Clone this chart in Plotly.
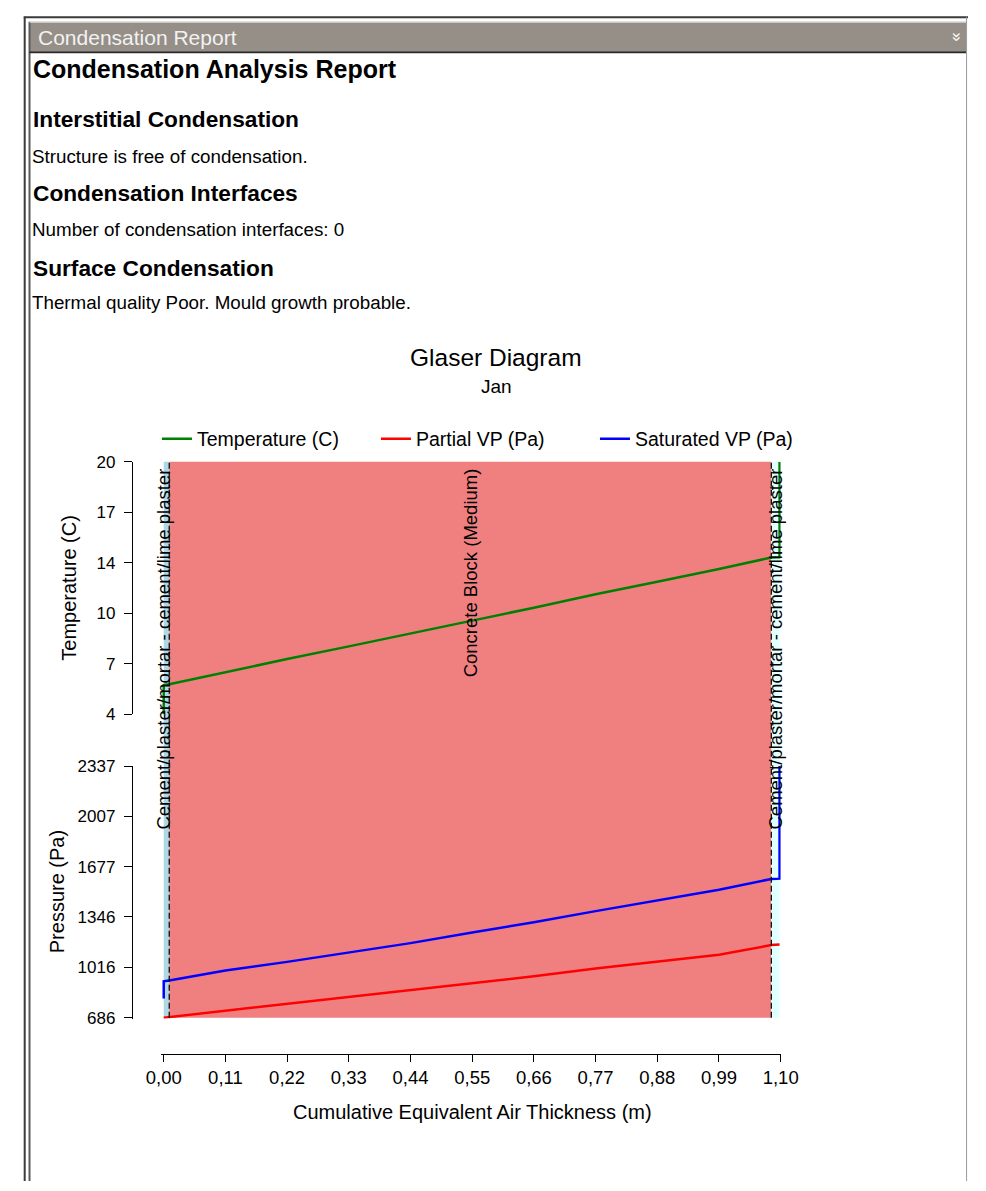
import plotly.graph_objects as go

W, H = 986, 1191

# ---------------- data ----------------
x_temp = [0.0, 0.0, 0.0098, 0.11, 0.22, 0.33, 0.44, 0.55, 0.66, 0.77, 0.88, 0.99, 1.0833, 1.098, 1.098]
temp = [4.0, 5.85, 5.9, 6.68, 7.5, 8.3, 9.1, 9.93, 10.75, 11.6, 12.4, 13.2, 13.93, 13.95, 20.0]

x_psat = [0.0, 0.0, 0.0098, 0.11, 0.22, 0.33, 0.44, 0.55, 0.66, 0.77, 0.88, 0.99, 1.0833, 1.098, 1.098]
psat = [812, 924, 930, 995, 1052, 1112, 1175, 1245, 1312, 1385, 1455, 1525, 1596, 1598, 2337]

x_pvap = [0.0, 0.0098, 0.11, 0.22, 0.33, 0.44, 0.55, 0.66, 0.77, 0.88, 0.99, 1.0833, 1.098]
pvap = [686, 690, 731, 776, 822, 866, 912, 957, 1009, 1054, 1099, 1162, 1166]

layer_names = ["Cement/plaster/mortar - cement/lime plaster",
               "Concrete Block (Medium)",
               "Cement/plaster/mortar - cement/lime plaster"]
layer_bounds = [0.0, 0.0098, 1.0833, 1.098]
layer_colors = ["#ADD8E6", "#F08080", "#E0FFFF"]

x_ticks = [0.0, 0.11, 0.22, 0.33, 0.44, 0.55, 0.66, 0.77, 0.88, 0.99, 1.10]
x_tick_labels = ["0,00", "0,11", "0,22", "0,33", "0,44", "0,55", "0,66", "0,77", "0,88", "0,99", "1,10"]
temp_ticks = [4.0, 7.2, 10.4, 13.6, 16.8, 20.0]
temp_tick_labels = ["4", "7", "10", "14", "17", "20"]
p_ticks = [686.0, 1016.2, 1346.4, 1676.6, 2006.8, 2337.0]
p_tick_labels = ["686", "1016", "1346", "1677", "2007", "2337"]

report_lines = [
    ("Condensation Analysis Report", 25, True, 61),
    ("Interstitial Condensation", 22.7, True, 112),
    ("Structure is free of condensation.", 18.8, False, 150),
    ("Condensation Interfaces", 22.7, True, 187),
    ("Number of condensation interfaces: 0", 18.8, False, 224),
    ("Surface Condensation", 22.7, True, 263),
    ("Thermal quality Poor. Mould growth probable.", 18.8, False, 298),
]

FONT = "Liberation Sans, Arial, sans-serif"


def X(px):
    return px / W


def Y(py):
    return 1 - py / H


fig = go.Figure()

fig.add_trace(go.Scatter(x=x_temp, y=temp, mode="lines", name="Temperature (C)",
                         line=dict(color="#008000", width=2.5), xaxis="x", yaxis="y"))
fig.add_trace(go.Scatter(x=x_pvap, y=pvap, mode="lines", name="Partial VP (Pa)",
                         line=dict(color="#FF0000", width=2.5), xaxis="x", yaxis="y2"))
fig.add_trace(go.Scatter(x=x_psat, y=psat, mode="lines", name="Saturated VP (Pa)",
                         line=dict(color="#0000FF", width=2.5), xaxis="x", yaxis="y2"))

shapes = []
annotations = []

# ---- frame ----
shapes += [
    dict(type="rect", xref="paper", yref="paper", x0=X(14), x1=X(984), y0=Y(43), y1=Y(13),
         fillcolor="#958F88", line=dict(width=0), layer="below"),
    dict(type="line", xref="paper", yref="paper", x0=X(9), x1=X(9), y0=Y(8), y1=0,
         line=dict(color="#3a3a3a", width=2)),
    dict(type="line", xref="paper", yref="paper", x0=X(8), x1=X(986), y0=Y(8.5), y1=Y(8.5),
         line=dict(color="#3a3a3a", width=2)),
    dict(type="line", xref="paper", yref="paper", x0=X(14), x1=X(14), y0=Y(13), y1=0,
         line=dict(color="#5a5a5a", width=2)),
    dict(type="line", xref="paper", yref="paper", x0=X(14), x1=X(984), y0=Y(13.5), y1=Y(13.5),
         line=dict(color="#d8d8d8", width=1)),
    dict(type="line", xref="paper", yref="paper", x0=X(14), x1=X(984), y0=Y(44), y1=Y(44),
         line=dict(color="#2a2a2a", width=2)),
    dict(type="line", xref="paper", yref="paper", x0=X(984.5), x1=X(984.5), y0=Y(8), y1=0,
         line=dict(color="#9a9a9a", width=1)),
]
annotations.append(dict(text="Condensation Report", xref="paper", yref="paper", x=X(21), y=Y(29),
                        xanchor="left", yanchor="middle", showarrow=False,
                        font=dict(family=FONT, size=21, color="#f2f2f2")))
annotations.append(dict(text="»", xref="paper", yref="paper", x=X(975), y=Y(28),
                        xanchor="center", yanchor="middle", showarrow=False, textangle=90,
                        font=dict(family=FONT, size=17, color="#ffffff")))

for txt, size, bold, yc in report_lines:
    annotations.append(dict(text=f"<b>{txt}</b>" if bold else txt, xref="paper", yref="paper",
                            x=X(16 if bold else 14), y=Y(yc), xanchor="left", yanchor="middle",
                            showarrow=False, font=dict(family=FONT, size=size, color="#000000")))

# ---- chart titles ----
annotations.append(dict(text="Glaser Diagram", xref="paper", yref="paper", x=X(497.5), y=Y(354),
                        xanchor="center", yanchor="middle", showarrow=False,
                        font=dict(family=FONT, size=24.5, color="#000000")))
annotations.append(dict(text="Jan", xref="paper", yref="paper", x=X(497.5), y=Y(384),
                        xanchor="center", yanchor="middle", showarrow=False,
                        font=dict(family=FONT, size=19, color="#000000")))

# ---- layers ----
TOP, BOT = 460, 1025
label_shift = [-3, 0, 0]
for i, name in enumerate(layer_names):
    x0, x1 = layer_bounds[i], layer_bounds[i + 1]
    shapes.append(dict(type="rect", xref="x", yref="paper", x0=x0, x1=x1, y0=Y(BOT), y1=Y(TOP),
                       fillcolor=layer_colors[i], line=dict(width=0), layer="below"))
    annotations.append(dict(text=name, xref="x", yref="paper", x=(x0 + x1) / 2, y=Y(TOP + 5),
                            xanchor="center", yanchor="top", textangle=-90, showarrow=False,
                            xshift=label_shift[i],
                            font=dict(family=FONT, size=18.5, color="#000000")))
for b in layer_bounds[1:-1]:
    shapes.append(dict(type="line", xref="x", yref="paper", x0=b, x1=b, y0=Y(BOT), y1=Y(TOP),
                       line=dict(color="#000000", width=1.2, dash="6px,3px"), layer="above"))

# axis titles
annotations.append(dict(text="Temperature (C)", xref="paper", yref="paper", x=X(55), y=Y(588),
                        xanchor="center", yanchor="middle", textangle=-90, showarrow=False,
                        font=dict(family=FONT, size=20, color="#000000")))
annotations.append(dict(text="Pressure (Pa)", xref="paper", yref="paper", x=X(42), y=Y(897),
                        xanchor="center", yanchor="middle", textangle=-90, showarrow=False,
                        font=dict(family=FONT, size=20, color="#000000")))
annotations.append(dict(text="Cumulative Equivalent Air Thickness (m)", xref="paper", yref="paper",
                        x=X(472.5), y=Y(1121), xanchor="center", yanchor="middle", showarrow=False,
                        font=dict(family=FONT, size=20, color="#000000")))

PX_PER_M = (792 - 153) / 1.1
PX_PER_PA = (1025 - 769.3) / (2337 - 686)
X_LO = -0.004
P_LO = 680

xtickfont = dict(family=FONT, size=18.5, color="#000000")
ytickfont = dict(family=FONT, size=17, color="#000000")
common_y = dict(anchor="free", position=X(120), side="left", showline=True, linecolor="#000000",
                linewidth=1.2, ticks="outside", ticklen=8, tickcolor="#000000", tickwidth=1.2,
                showgrid=False, zeroline=False, tickfont=ytickfont, ticklabelstandoff=5)

fig.update_layout(
    width=W, height=H,
    margin=dict(l=0, r=0, t=0, b=0),
    paper_bgcolor="#ffffff", plot_bgcolor="rgba(0,0,0,0)",
    font=dict(family=FONT, color="#000000"),
    showlegend=True,
    legend=dict(orientation="h", x=X(146), y=Y(437), xanchor="left", yanchor="middle",
                font=dict(family=FONT, size=19.5, color="#000000"), bgcolor="rgba(0,0,0,0)",
                entrywidth=174, entrywidthmode="pixels", itemwidth=30),
    xaxis=dict(domain=[X(153 + X_LO * PX_PER_M), X(792)], range=[X_LO, 1.1], anchor="free",
               position=Y(1062), showline=True, linecolor="#000000", linewidth=1.2,
               ticks="outside", ticklen=7, tickcolor="#000000", tickwidth=1.2,
               tickvals=x_ticks, ticktext=x_tick_labels,
               showgrid=False, zeroline=False, tickfont=xtickfont),
    yaxis=dict(domain=[Y(716.7), Y(460)], range=[4, 20], tickvals=temp_ticks,
               ticktext=temp_tick_labels, **common_y),
    yaxis2=dict(domain=[Y(1025 + (686 - P_LO) * PX_PER_PA), Y(769.3)], range=[P_LO, 2337],
                tickvals=p_ticks, ticktext=p_tick_labels, **common_y),
    shapes=shapes,
    annotations=annotations,
)

fig.write_html("out.html")
